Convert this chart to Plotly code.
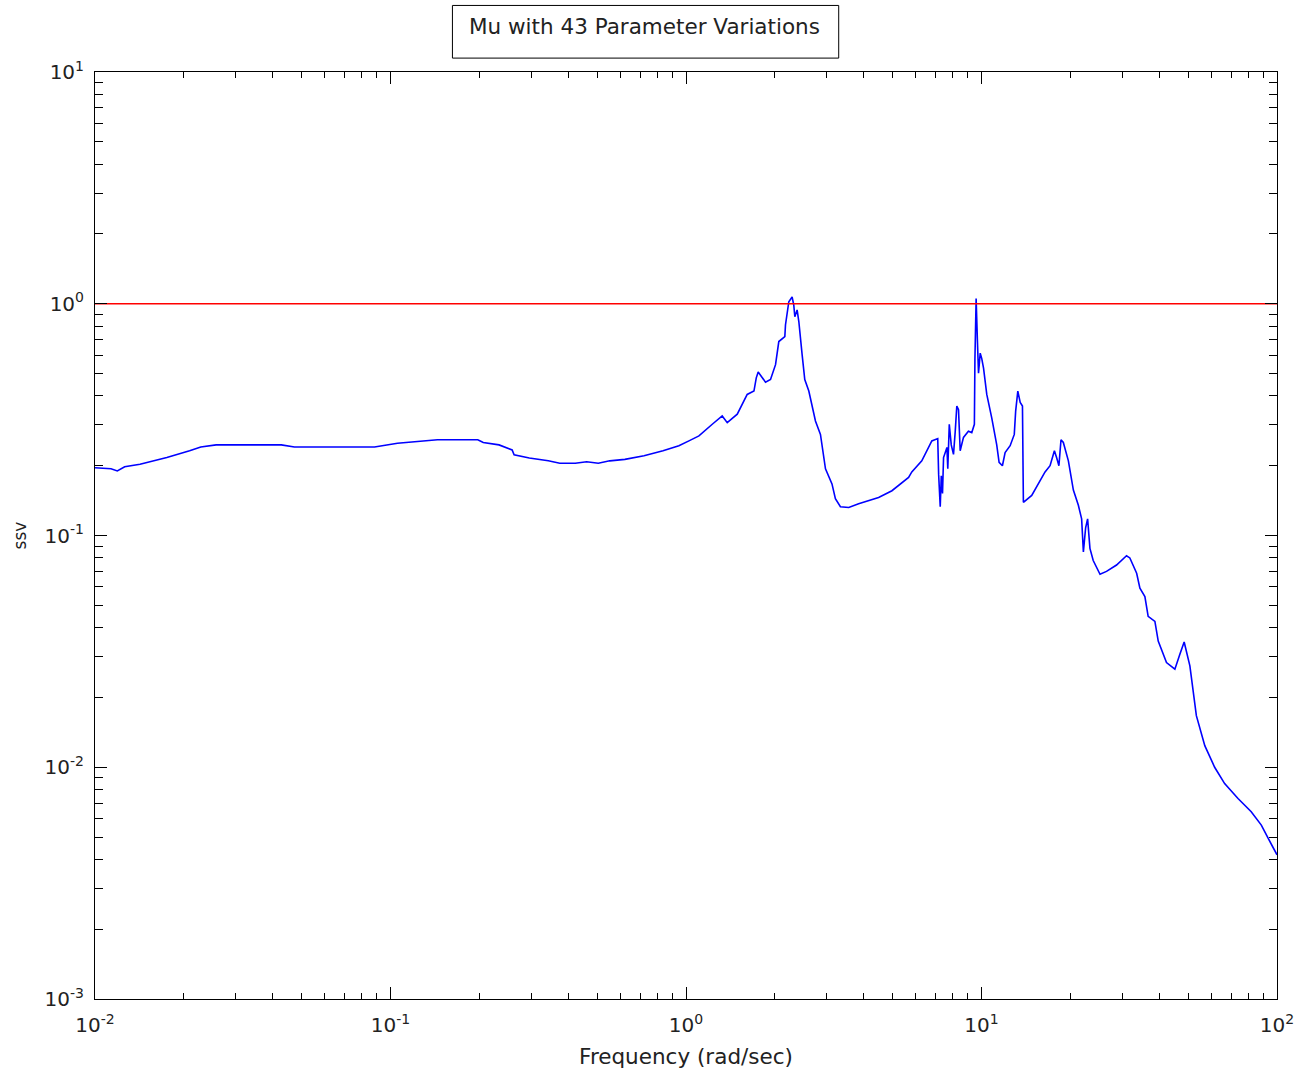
import plotly.graph_objects as go

# Frequency (rad/sec) and mu upper bound (ssv)
freq = [0.0100, 0.01133, 0.0119, 0.0126, 0.0142, 0.0175, 0.0209, 0.0228, 0.0257, 0.0427,
        0.0473, 0.0883, 0.1056, 0.1225, 0.1442, 0.1974, 0.206, 0.233, 0.258, 0.262,
        0.295, 0.342, 0.374, 0.422, 0.461, 0.505, 0.552, 0.621, 0.721, 0.836,
        0.946, 1.023, 1.106, 1.227, 1.326, 1.379, 1.491, 1.611, 1.698, 1.729,
        1.755, 1.858, 1.932, 2.009, 2.061, 2.160, 2.171, 2.228, 2.286, 2.316,
        2.335, 2.377, 2.409, 2.472, 2.523, 2.604, 2.742, 2.851, 2.965, 3.119,
        3.203, 3.331, 3.554, 3.839, 4.485, 4.977, 5.666, 5.81, 6.28, 6.79,
        7.11, 7.16, 7.25, 7.31, 7.38, 7.44, 7.64, 7.69, 7.78, 7.90,
        8.04, 8.15, 8.25, 8.36, 8.47, 8.69, 9.03, 9.27, 9.46, 9.50,
        9.59, 9.68, 9.77, 9.90, 10.02, 10.16, 10.42, 10.83, 11.26, 11.47,
        11.77, 12.02, 12.50, 12.91, 13.05, 13.27, 13.52, 13.76, 13.86, 14.79,
        15.59, 16.41, 17.06, 17.65, 17.95, 18.28, 18.58, 18.92, 19.68, 20.46,
        21.27, 21.82, 22.12, 22.51, 22.86, 23.28, 23.88, 25.18, 26.49, 28.64,
        30.96, 31.77, 33.50, 34.36, 35.72, 36.64, 38.62, 39.63, 42.27, 45.12,
        46.91, 48.51, 50.72, 52.0, 53.35, 56.97, 61.52, 66.5, 73.8, 81.8,
        88.5, 93.3, 100.0]
mu = [0.196, 0.194, 0.190, 0.198, 0.203, 0.217, 0.232, 0.241, 0.246, 0.246,
      0.241, 0.241, 0.250, 0.254, 0.259, 0.259, 0.252, 0.246, 0.234, 0.223,
      0.216, 0.210, 0.205, 0.205, 0.208, 0.205, 0.210, 0.213, 0.221, 0.232,
      0.244, 0.256, 0.269, 0.302, 0.328, 0.307, 0.334, 0.406, 0.420, 0.479,
      0.508, 0.459, 0.471, 0.546, 0.687, 0.722, 0.810, 1.02, 1.07, 0.986,
      0.879, 0.94, 0.838, 0.602, 0.471, 0.420, 0.312, 0.273, 0.194, 0.167,
      0.144, 0.133, 0.132, 0.137, 0.146, 0.156, 0.178, 0.188, 0.210, 0.256,
      0.262, 0.184, 0.133, 0.181, 0.152, 0.217, 0.240, 0.194, 0.302, 0.246,
      0.224, 0.282, 0.362, 0.349, 0.232, 0.265, 0.282, 0.278, 0.302, 0.573,
      1.054, 0.710, 0.502, 0.612, 0.580, 0.528, 0.406, 0.322, 0.246, 0.207,
      0.200, 0.228, 0.244, 0.273, 0.344, 0.420, 0.375, 0.362, 0.139, 0.149,
      0.167, 0.188, 0.200, 0.232, 0.217, 0.200, 0.259, 0.252, 0.210, 0.157,
      0.135, 0.118, 0.085, 0.108, 0.118, 0.088, 0.078, 0.068, 0.070, 0.0746,
      0.0818, 0.080, 0.0687, 0.0592, 0.0545, 0.0448, 0.0426, 0.0350, 0.0283, 0.0265,
      0.0307, 0.0347, 0.0274, 0.0217, 0.0167, 0.0124, 0.0100, 0.0085, 0.00733, 0.00643,
      0.00563, 0.00494, 0.00419]

ref_x = [0.01, 100]
ref_y = [1, 1]

x_major = [0.01, 0.1, 1, 10, 100]
x_labels = ["10<sup>-2</sup>", "10<sup>-1</sup>", "10<sup>0</sup>", "10<sup>1</sup>", "10<sup>2</sup>"]
y_major = [0.001, 0.01, 0.1, 1, 10]
y_labels = ["10<sup>-3</sup>", "10<sup>-2</sup>", "10<sup>-1</sup>", "10<sup>0</sup>", "10<sup>1</sup>"]

x_minor = [m * 10 ** k for k in range(-2, 2) for m in range(2, 10)]
y_minor = [m * 10 ** k for k in range(-3, 1) for m in range(2, 10)]

title_text = "Mu with 43 Parameter Variations"
x_title = "Frequency (rad/sec)"
y_title = "ssv"

FONT = "DejaVu Sans"
TXT = "#222222"

fig = go.Figure()
fig.add_trace(go.Scatter(x=freq, y=mu, mode="lines",
                         line=dict(color="#0000ff", width=1.6), showlegend=False))
fig.add_trace(go.Scatter(x=ref_x, y=ref_y, mode="lines",
                         line=dict(color="#ff0000", width=1.5), showlegend=False))

axis_common = dict(
    type="log", showgrid=False, zeroline=False,
    showline=True, linecolor="black", linewidth=1, mirror="ticks",
    ticks="inside", tickcolor="black", tickwidth=1, ticklen=12,
    tickmode="array", tickfont=dict(family=FONT, size=20, color=TXT),
)

fig.update_xaxes(**axis_common, range=[-2, 2], tickvals=x_major, ticktext=x_labels,
                 minor=dict(tickvals=x_minor, ticks="inside", ticklen=6,
                            tickcolor="black", tickwidth=1, showgrid=False),
                 ticklabelstandoff=8,
                 title=dict(text=x_title, font=dict(family=FONT, size=21.5, color=TXT),
                            standoff=12))
fig.update_yaxes(**axis_common, range=[-3, 1], tickvals=y_major, ticktext=y_labels,
                 minor=dict(tickvals=y_minor, ticks="inside", ticklen=8,
                            tickcolor="black", tickwidth=1, showgrid=False),
                 ticklabelstandoff=6,
                 title=dict(text=y_title, font=dict(family=FONT, size=17, color=TXT),
                            standoff=13))

fig.add_shape(type="rect", xref="paper", yref="paper",
              x0=0.3024, x1=0.6292, y0=1.0150, y1=1.0718,
              line=dict(color="black", width=1), fillcolor="white")
fig.add_annotation(text=title_text, xref="paper", yref="paper",
                   x=0.4645, y=1.0493, showarrow=False,
                   font=dict(family=FONT, size=21.5, color=TXT),
                   xanchor="center", yanchor="middle")

fig.update_layout(
    width=1306, height=1076, autosize=False,
    margin=dict(l=95, r=27, t=72, b=71),
    paper_bgcolor="white", plot_bgcolor="white",
    font=dict(family=FONT),
)

# remove the browser's default 8px body margin so the figure fills the window exactly
fig.write_html("out.html", config={"displayModeBar": False},
               post_script="document.body.style.margin='0';")
